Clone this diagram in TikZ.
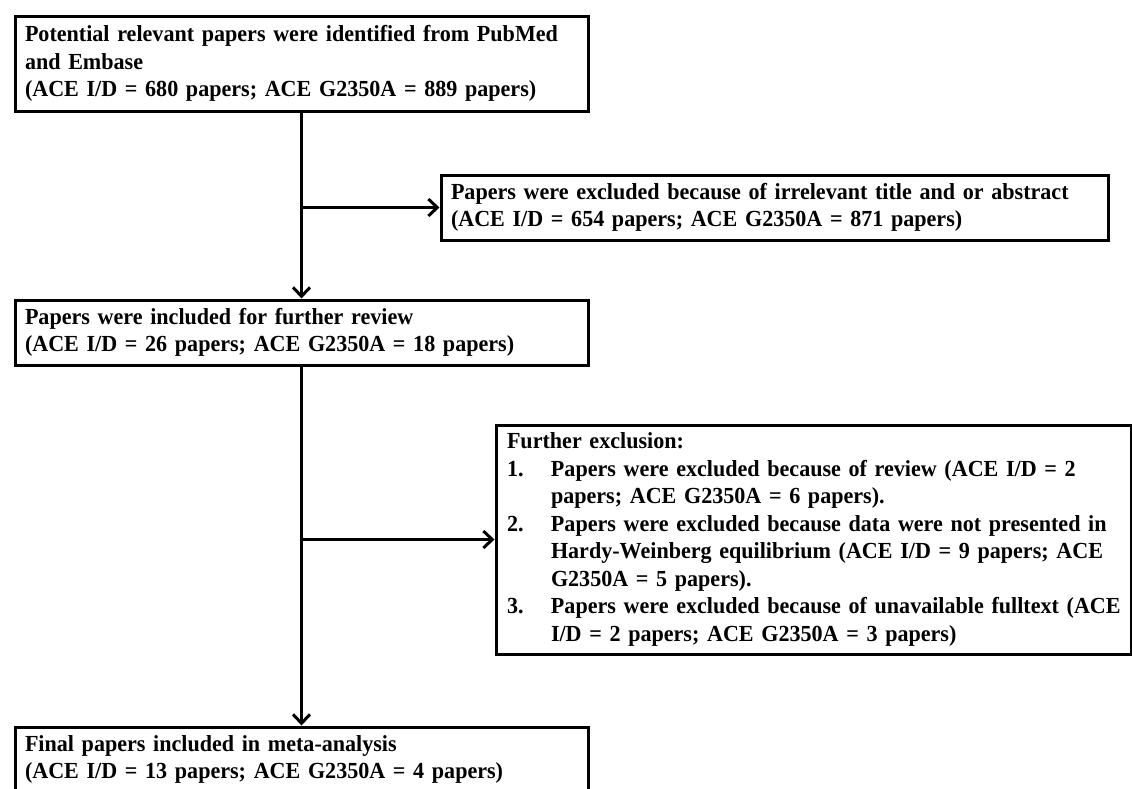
\documentclass[tikz,border=0pt]{standalone}
\usepackage{fontspec}
\setmainfont[FakeStretch=0.96]{Liberation Serif}
\usetikzlibrary{arrows.meta}
\begin{document}
\begin{tikzpicture}[x=1pt,y=-1pt,
  box/.style={draw, line width=3pt, rectangle, anchor=north west,
    inner xsep=10pt, inner ysep=0pt,
    font=\bfseries\fontsize{23}{27.5}\selectfont, align=left},
  arr/.style={line width=3pt, -{Straight Barb[length=9pt,width=17pt]}}]
\useasboundingbox (0,0) rectangle (1132,788);
\node[box, minimum width=573pt, minimum height=95pt, text width=553pt] (b1) at (13.5,14.5)
  {\begin{tabular}{@{}l@{}}Potential relevant papers were identified from PubMed\\
   and Embase\\
   (ACE I/D = 680 papers; ACE G2350A = 889 papers)\end{tabular}};
\node[box, minimum width=667pt, minimum height=65pt, text width=647pt] (b2) at (439.5,173.5)
  {\begin{tabular}{@{}l@{}}Papers were excluded because of irrelevant title and or abstract\\
   (ACE I/D = 654 papers; ACE G2350A = 871 papers)\end{tabular}};
\node[box, minimum width=573pt, minimum height=65pt, text width=553pt] (b3) at (13.5,298.5)
  {\begin{tabular}{@{}l@{}}Papers were included for further review\\
   (ACE I/D = 26 papers; ACE G2350A = 18 papers)\end{tabular}};
\node[box, minimum width=635pt, minimum height=229pt, text width=613pt, inner xsep=11pt] (b4) at (494.5,423.5)
  {\begin{tabular}{@{}p{44pt}@{}l@{}}\multicolumn{2}{@{}l@{}}{Further exclusion:}\\
   1. & Papers were excluded because of review (ACE I/D = 2\\
      & papers; ACE G2350A = 6 papers).\\
   2. & Papers were excluded because data were not presented in\\
      & Hardy-Weinberg equilibrium (ACE I/D = 9 papers; ACE\\
      & G2350A = 5 papers).\\
   3. & Papers were excluded because of unavailable fulltext (ACE\\
      & I/D = 2 papers; ACE G2350A = 3 papers)\end{tabular}};
\node[box, minimum width=573pt, minimum height=65pt, text width=553pt] (b5) at (13.5,725.5)
  {\begin{tabular}{@{}l@{}}Final papers included in meta-analysis\\
   (ACE I/D = 13 papers; ACE G2350A = 4 papers)\end{tabular}};
\draw[arr] (b1.south) -- (b3.north);
\draw[arr] (b1.south |- b2.west) -- (b2.west);
\draw[arr] (b3.south) -- (b5.north);
\draw[arr] (b3.south |- b4.west) -- (b4.west);
\end{tikzpicture}
\end{document}
